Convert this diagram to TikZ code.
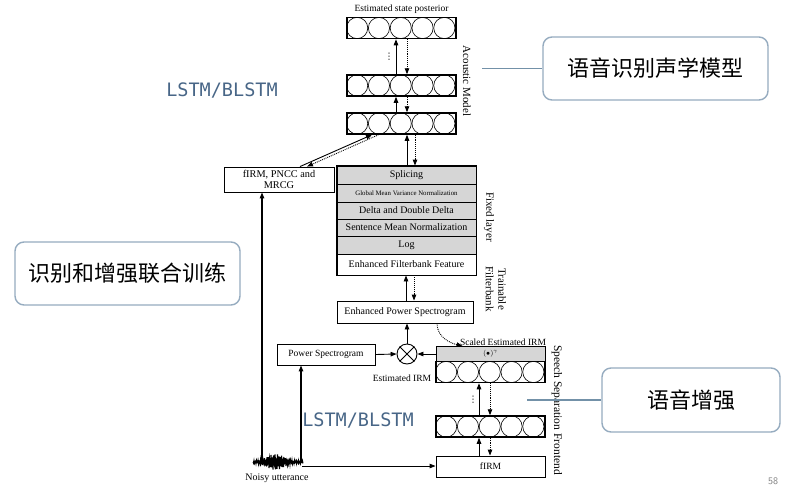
\documentclass[tikz,border=0pt]{standalone}
\usepackage{fontspec}
\setmainfont{Liberation Serif}
\newfontfamily\cjk{Noto Sans CJK SC}
\newfontfamily\monof{DejaVu Sans Mono}
\newfontfamily\djv{DejaVu Sans}
\usetikzlibrary{arrows.meta,calc}
\definecolor{lstmc}{RGB}{72,102,135}
\definecolor{callb}{RGB}{150,172,192}
\definecolor{calll}{RGB}{115,145,168}
\definecolor{fixg}{RGB}{214,214,214}
\newcommand\circrow[1]{\foreach \i in {0,...,4}{\draw[line width=0.6pt] ($(#1.west)+({10.9+21.8*\i},0)$) circle[radius=10.6pt];}}
\begin{document}
\begin{tikzpicture}[x=1pt,y=-1pt,
  >={Triangle[length=6pt,width=4.5pt]},
  lay/.style={draw, line width=1.5pt, minimum width=109pt, minimum height=21pt, inner sep=0pt},
  rbox/.style={draw, line width=0.9pt, fill=white, inner sep=0pt, align=center, font=\fontsize{10}{12}\selectfont},
  fixrow/.style={draw, line width=0.9pt, fill=fixg, minimum width=139pt, inner sep=0pt, font=\fontsize{10}{12}\selectfont},
  solarr/.style={->, line width=0.9pt},
  dotarr/.style={->, line width=0.9pt, densely dotted},
  callout/.style={draw=callb, line width=1.4pt, rounded corners=9pt, fill=white, inner sep=0pt, font=\cjk\fontsize{22}{26}\selectfont},
  lstm/.style={text=lstmc, inner sep=0pt, font=\monof\fontsize{18.5}{20}\selectfont},
  lab/.style={inner sep=0pt, font=\fontsize{9.5}{11}\selectfont},
  rlab/.style={inner sep=0pt, rotate=-90, align=center, font=\fontsize{11}{12.5}\selectfont},
  vdt/.style={inner sep=0pt, font=\djv\fontsize{9}{9}\selectfont},
]
\useasboundingbox[fill=white] (0,0) rectangle (787,488);

% acoustic model layers
\node[lay] (L1) at (401.5,28) {};
\node[lay] (L2) at (401.5,85.5) {};
\node[lay] (L3) at (401.5,123.5) {};
\circrow{L1}\circrow{L2}\circrow{L3}
\node[lab] (esp) at (401.5,9) {Estimated state posterior};
\node[vdt] (vd1) at (389,57) {⋮};

% fixed stack
\node[fixrow, minimum height=18pt] (spl) at (406.5,175) {Splicing};
\node[fixrow, minimum height=18pt, font=\fontsize{6.8}{8}\selectfont] (gmv) at (406.5,193) {Global Mean Variance Normalization};
\node[fixrow, minimum height=17pt] (del) at (406.5,210.5) {Delta and Double Delta};
\node[fixrow, minimum height=17pt] (smn) at (406.5,227.5) {Sentence Mean Normalization};
\node[fixrow, minimum height=18pt] (log) at (406.5,245) {Log};
\node[fixrow, fill=white, minimum height=21pt] (eff) at (406.5,264.5) {Enhanced Filterbank Feature};
\draw[line width=1.4pt] (spl.north west) rectangle (eff.south east);

\node[rbox, minimum width=136pt, minimum height=22pt] (eps) at (405,312) {Enhanced Power Spectrogram};
\node[draw, circle, line width=0.9pt, minimum size=20pt, inner sep=0pt] (mul) at (407,354) {};
\draw[line width=0.9pt] (mul.north west) -- (mul.south east) (mul.north east) -- (mul.south west);
\node[rbox, minimum width=98pt, minimum height=21pt, font=\fontsize{9.5}{11}\selectfont] (ps) at (326,354.5) {Power Spectrogram};
\node[rbox, minimum width=110pt, minimum height=25pt, font=\fontsize{10.3}{11.5}\selectfont] (fb) at (279,179.5) {fIRM, PNCC and\\MRCG};

% separation frontend
\node[draw, line width=0.9pt, fill=fixg, minimum width=109pt, minimum height=15pt, inner sep=0pt] (sc) at (490.5,354) {\fontsize{7}{8}\selectfont$(\bullet)^{\gamma}$};
\node[lay] (E1) at (490.5,372) {};
\node[lay] (E2) at (490.5,426.5) {};
\circrow{E1}\circrow{E2}
\node[rbox, minimum width=109pt, minimum height=21pt, font=\fontsize{9.5}{11}\selectfont] (firm) at (490.5,466.5) {fIRM};
\node[vdt] (vd2) at (473,400) {⋮};

% labels
\node[rlab] (am) at (467,81) {Acoustic Model};
\node[rlab] (fl) at (489,217) {Fixed layer};
\node[rlab] (tf) at (496,289) {Trainable\\Filterbank};
\node[rlab, font=\fontsize{11.5}{13}\selectfont] (ssf) at (557,410) {Speech Separation Frontend};
\node[lab] (sel) at (503,342) {Scaled Estimated IRM};
\node[lab] (eil) at (402,378) {Estimated IRM};
\node[inner sep=0pt, font=\fontsize{10}{12}\selectfont] (nu) at (277,478) {Noisy utterance};
\node[lstm] (ls1) at (222,90) {LSTM/BLSTM};
\node[lstm] (ls2) at (358,420) {LSTM/BLSTM};

% waveform
\draw[line width=1pt] plot[domain=0:100, samples=101] ({253+0.5*\x}, {462+(1.5+6.5*exp(-(((\x-45)/22)*((\x-45)/22))))*sin(\x*137.5)});
\draw[line width=2pt] (253,462) -- (303,462);
\coordinate (w1) at (262,462);
\coordinate (w2) at (301,462);
\coordinate (w3) at (302,466);

% arrows acoustic model
\draw[solarr] ([xshift=-5.5pt]L2.north) -- ([xshift=-5.5pt]L1.south);
\draw[dotarr] ([xshift=5.5pt]L1.south) -- ([xshift=5.5pt]L2.north);
\draw[solarr] ([xshift=-5.5pt]L3.north) -- ([xshift=-5.5pt]L2.south);
\draw[dotarr] ([xshift=5.5pt]L2.south) -- ([xshift=5.5pt]L3.north);
\draw[solarr] ([xshift=0.5pt]spl.north) -- ([xshift=5.5pt]L3.south);
\draw[dotarr] ([xshift=13.5pt]L3.south) -- ([xshift=8.5pt]spl.north);
\draw[solarr] ([xshift=21pt]fb.north) -- ([xshift=-29.5pt]L3.south);
\draw[dotarr] ([xshift=-23pt]L3.south) -- ([xshift=28pt]fb.north);

% stack / enhancement
\draw[solarr] ([xshift=1pt]eps.north) -- ([xshift=-0.5pt]eff.south);
\draw[dotarr] ([xshift=7.5pt]eff.south) -- ([xshift=9pt]eps.north);
\draw[solarr] (mul.north) -- ([xshift=2pt]eps.south);
\draw[solarr] (ps.east) -- (mul.west);
\draw[solarr] (sc.west) -- (mul.east);
\draw[dotarr] ([xshift=32pt]eps.south) .. controls +(0,14) and +(-12,-3) .. ([xshift=-28pt]sc.north);

% separation arrows
\draw[solarr] ([xshift=-11.5pt]E2.north) -- ([xshift=-11.5pt]E1.south);
\draw[dotarr] ([xshift=-0.5pt]E1.south) -- ([xshift=-0.5pt]E2.north);
\draw[solarr] ([xshift=-11.5pt]firm.north) -- ([xshift=-11.5pt]E2.south);
\draw[dotarr] ([xshift=-0.5pt]E2.south) -- ([xshift=-0.5pt]firm.north);

% input arrows
\draw[solarr, line width=1.2pt] (w1) -- (w1 |- fb.south);
\draw[solarr, line width=1.2pt] (w2) -- (w2 |- ps.south);
\draw[solarr] (w3) -- (w3 -| firm.west);

% callouts
\node[callout, minimum width=225pt, minimum height=63pt] (cb1) at (655.5,68.5) {语音识别声学模型};
\node[callout, minimum width=178pt, minimum height=64pt] (cb2) at (691,400) {语音增强};
\node[callout, minimum width=225pt, minimum height=63pt] (cb3) at (127.5,273.5) {识别和增强联合训练};
\coordinate (cA) at (482,68.5);
\coordinate (cB) at (527,400);
\draw[calll, line width=1.3pt] (cA) -- (cb1.west);
\draw[calll, line width=1.3pt] (cB) -- (cb2.west);

\node[text=gray, inner sep=0pt, font=\sffamily\fontsize{10}{12}\selectfont] (pg) at (773,481) {58};
\end{tikzpicture}
\end{document}
